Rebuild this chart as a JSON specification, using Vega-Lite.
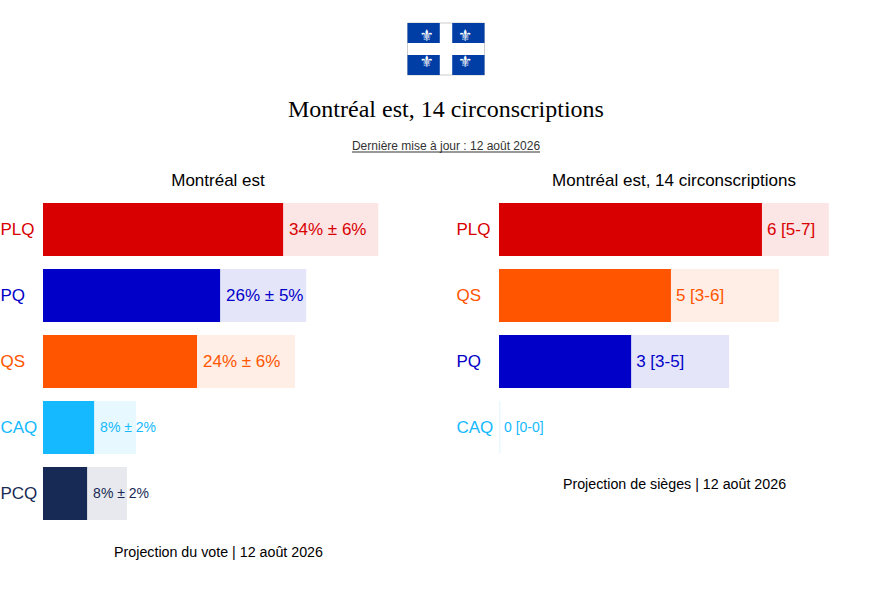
{
"$schema":"https://vega.github.io/schema/vega-lite/v6.json",
"padding":{"left":0,"top":22,"right":0,"bottom":0},
"background":"white",
"bounds":"flush",
"spacing":121.5,
"config":{"font":"Liberation Sans","view":{"stroke":null}},
"datasets":{
"vote":[
{"parti":"PLQ","mesure":34.3,"fin":47.9,"etiquette":"34% ± 6%"},
{"parti":"PQ","mesure":25.3,"fin":37.6,"etiquette":"26% ± 5%"},
{"parti":"QS","mesure":22,"fin":36,"etiquette":"24% ± 6%"},
{"parti":"CAQ","mesure":7.3,"fin":13.3,"etiquette":"8% ± 2%"},
{"parti":"PCQ","mesure":6.3,"fin":12,"etiquette":"8% ± 2%"}],
"sieges":[
{"parti":"PLQ","mesure":6.01,"fin":7.54,"etiquette":"6 [5-7]"},
{"parti":"QS","mesure":3.93,"fin":6.4,"etiquette":"5 [3-6]"},
{"parti":"PQ","mesure":3.02,"fin":5.26,"etiquette":"3 [3-5]"},
{"parti":"CAQ","mesure":0,"fin":0.03,"etiquette":"0 [0-0]"}],
"quadrants":[{"c":"g","r":"h"},{"c":"d","r":"h"},{"c":"g","r":"b"},{"c":"d","r":"b"}],
"un":[{"n":1}]
},
"vconcat":[
{
"width":806,"height":52,
"data":{"name":"quadrants"},
"layer":[
{"data":{"name":"un"},"mark":{"type":"rect","fill":"white","stroke":"#cccccc","strokeWidth":1},
"encoding":{"x":{"datum":-38.5,"type":"quantitative","axis":null,"scale":{"domain":[-403,403],"nice":false}},"x2":{"datum":38.5},"y":{"datum":0,"type":"quantitative","axis":null,"scale":{"domain":[52,0],"nice":false}},"y2":{"datum":52}}},
{"mark":{"type":"rect","color":"#003da5"},
"encoding":{
"x":{"field":"c","type":"nominal","sort":["g","d"],"axis":null,"scale":{"range":[364.5,441.5],"paddingInner":0.278,"paddingOuter":0}},
"y":{"field":"r","type":"nominal","sort":["h","b"],"axis":null,"scale":{"paddingInner":0.375,"paddingOuter":0}}}},
{"mark":{"type":"text","text":"⚜","font":"DejaVu Sans","fontSize":16,"color":"white"},
"encoding":{
"x":{"field":"c","type":"nominal","sort":["g","d"],"axis":null,"scale":{"range":[364.5,441.5],"paddingInner":0.278,"paddingOuter":0}},
"y":{"field":"r","type":"nominal","sort":["h","b"],"axis":null,"scale":{"paddingInner":0.375,"paddingOuter":0}}}},
{"data":{"name":"un"},"mark":{"type":"text","text":"Montréal est, 14 circonscriptions","font":"Liberation Serif","fontSize":24,"color":"#000000","baseline":"middle"},
"encoding":{"x":{"datum":0,"type":"quantitative","axis":null,"scale":{"domain":[-403,403],"nice":false}},"y":{"datum":87,"type":"quantitative","axis":null,"scale":{"domain":[52,0],"nice":false}}}},
{"data":{"name":"un"},"mark":{"type":"text","text":"Dernière mise à jour : 12 août 2026","font":"Liberation Sans","fontSize":12,"color":"#333333","baseline":"middle"},
"encoding":{"x":{"datum":0,"type":"quantitative","axis":null,"scale":{"domain":[-403,403],"nice":false}},"y":{"datum":123,"type":"quantitative","axis":null,"scale":{"domain":[52,0],"nice":false}}}},
{"data":{"name":"un"},"mark":{"type":"rule","color":"#333333","strokeWidth":1,"clip":false},
"encoding":{"x":{"datum":-94,"type":"quantitative","axis":null,"scale":{"domain":[-403,403],"nice":false}},"x2":{"datum":94},"y":{"datum":129,"type":"quantitative","axis":null,"scale":{"domain":[52,0],"nice":false}}}}
],
"resolve":{"scale":{"x":"independent","y":"independent"}}
},
{
"bounds":"flush",
"spacing":106,
"hconcat":[
{
"width":350,"height":330,
"data":{"name":"vote"},
"title":{"text":"Montréal est","fontSize":17,"fontWeight":"normal","font":"Liberation Sans","anchor":"middle","offset":7,"color":"#000000"},
"encoding":{
"y":{"field":"parti","type":"nominal","sort":["PLQ","PQ","QS","CAQ","PCQ"],"scale":{"paddingInner":0.197,"paddingOuter":0.0985},
"axis":{"title":null,"domain":false,"ticks":false,"tickSize":0,"labelAlign":"left","labelPadding":43,"labelFontSize":17,"labelBound":false,"labelColor":{"expr":"{'PLQ':'#d80000','PQ':'#0000c8','QS':'#ff5500','CAQ':'#14b9ff','PCQ':'#172a55'}[datum.value]"}}},
"color":{"field":"parti","type":"nominal","legend":null,"scale":{"domain":["PLQ","PQ","QS","CAQ","PCQ"],"range":["#d80000","#0000c8","#ff5500","#14b9ff","#172a55"]}}
},
"layer":[
{"mark":{"type":"bar","opacity":0.1},"encoding":{"x":{"field":"fin","type":"quantitative","scale":{"domain":[0,50]},"axis":{"title":"Projection du vote | 12 août 2026","domain":false,"ticks":false,"labels":false,"grid":false,"titleFontSize":14.25,"titleFontWeight":"normal","titleColor":"#000000","titlePadding":19}}}},
{"mark":"bar","encoding":{"x":{"field":"mesure","type":"quantitative"}}},
{"mark":{"type":"text","align":"left","dx":6},"encoding":{"x":{"field":"mesure","type":"quantitative"},"text":{"field":"etiquette"},"size":{"condition":{"test":"datum.parti=='CAQ'||datum.parti=='PCQ'","value":14},"value":17}}}
]
},
{
"width":350,"height":264,
"data":{"name":"sieges"},
"title":{"text":"Montréal est, 14 circonscriptions","fontSize":17,"fontWeight":"normal","font":"Liberation Sans","anchor":"middle","offset":7,"color":"#000000"},
"encoding":{
"y":{"field":"parti","type":"nominal","sort":["PLQ","QS","PQ","CAQ"],"scale":{"paddingInner":0.197,"paddingOuter":0.0985},
"axis":{"title":null,"domain":false,"ticks":false,"tickSize":0,"labelAlign":"left","labelPadding":43,"labelFontSize":17,"labelBound":false,"labelColor":{"expr":"{'PLQ':'#d80000','PQ':'#0000c8','QS':'#ff5500','CAQ':'#14b9ff','PCQ':'#172a55'}[datum.value]"}}},
"color":{"field":"parti","type":"nominal","legend":null,"scale":{"domain":["PLQ","PQ","QS","CAQ","PCQ"],"range":["#d80000","#0000c8","#ff5500","#14b9ff","#172a55"]}}
},
"layer":[
{"mark":{"type":"bar","opacity":0.1},"encoding":{"x":{"field":"fin","type":"quantitative","scale":{"domain":[0,8]},"axis":{"title":"Projection de sièges | 12 août 2026","domain":false,"ticks":false,"labels":false,"grid":false,"titleFontSize":14.25,"titleFontWeight":"normal","titleColor":"#000000","titlePadding":17}}}},
{"mark":"bar","encoding":{"x":{"field":"mesure","type":"quantitative"}}},
{"mark":{"type":"text","align":"left","dx":5},"encoding":{"x":{"field":"mesure","type":"quantitative"},"text":{"field":"etiquette"},"size":{"condition":{"test":"datum.parti=='CAQ'","value":14},"value":17}}}
]
}
]
}
]
}
